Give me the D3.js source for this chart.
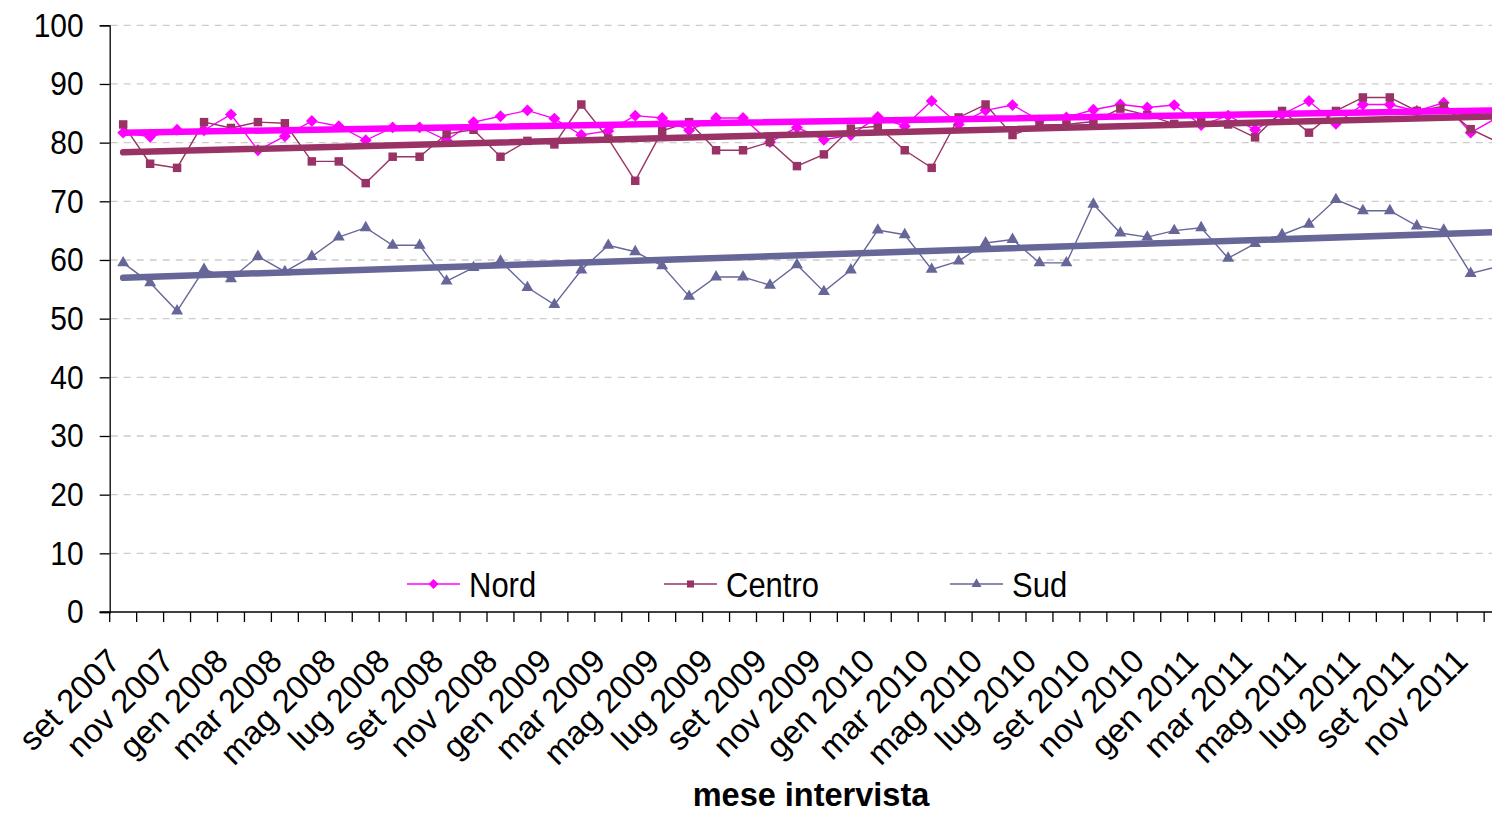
<!DOCTYPE html>
<html>
<head>
<meta charset="utf-8">
<script src="https://cdn.jsdelivr.net/npm/d3@7"></script>
<style>
  html, body { margin: 0; padding: 0; background: #ffffff; }
  svg { display: block; font-family: "Liberation Sans", Arial, sans-serif; }
</style>
</head>
<body>
<svg id="chart" width="1492" height="814"></svg>
<script>
// Months of the survey, September 2007 to December 2011
const monthNames = ["set", "ott", "nov", "dic", "gen", "feb", "mar", "apr", "mag", "giu", "lug", "ago"];
const months = [];
for (let k = 0; k < 52; k++) {
  const yr = 2007 + Math.floor((8 + k) / 12);
  months.push(monthNames[k % 12] + " " + yr);
}

// Percentages by area, one value per month
const nord = [81.7, 81.0, 82.2, 82.1, 84.8, 78.7, 81.1, 83.7, 82.8, 80.4,
              82.6, 82.6, 80.4, 83.5, 84.5, 85.5, 84.1, 81.3, 82.0, 84.6,
              84.2, 82.1, 84.2, 84.2, 80.1, 82.6, 80.5, 81.3, 84.4, 82.8,
              87.1, 83.1, 85.5, 86.4, 83.8, 84.3, 85.6, 86.5, 86.0, 86.4,
              83.0, 84.6, 82.2, 84.8, 87.1, 83.2, 86.5, 86.5, 85.4, 86.8,
              81.7, 84.3];
const centro = [83.1, 76.4, 75.7, 83.5, 82.5, 83.5, 83.3, 76.8, 76.8, 73.1,
                77.6, 77.6, 81.5, 82.2, 77.6, 80.3, 79.7, 86.5, 80.7, 73.5,
                82.0, 83.5, 78.7, 78.7, 80.1, 76.0, 78.0, 82.4, 82.8, 78.7,
                75.7, 84.3, 86.5, 81.3, 83.0, 83.1, 83.6, 85.8, 84.7, 83.2,
                83.5, 83.1, 80.9, 85.4, 81.7, 85.4, 87.7, 87.7, 85.4, 86.2,
                82.3, 80.1];
const sud = [59.5, 56.1, 51.3, 58.4, 56.8, 60.6, 58.0, 60.6, 63.9, 65.5,
             62.5, 62.5, 56.4, 58.7, 59.8, 55.3, 52.4, 58.3, 62.5, 61.4,
             59.0, 53.8, 57.1, 57.1, 55.7, 59.2, 54.6, 58.3, 65.1, 64.3,
             58.4, 59.8, 62.9, 63.5, 59.5, 59.5, 69.5, 64.6, 63.9, 65.0,
             65.5, 60.3, 62.8, 64.3, 66.1, 70.3, 68.4, 68.4, 65.8, 65.1,
             57.7, 58.9];

const yTicks = [0, 10, 20, 30, 40, 50, 60, 70, 80, 90, 100];
const seriesNames = ["Nord", "Centro", "Sud"];
const seriesColors = ["#ff00ff", "#993366", "#666699"];
const seriesShapes = [d3.symbolDiamond2 || d3.symbolDiamond, d3.symbolSquare, d3.symbolTriangle];
const seriesData = [nord, centro, sud];
const axisTitle = "mese intervista";

// Plot geometry
const plotLeft = 109.7, plotTop = 25.3, plotBottom = 612;
const bandW = 26.95;
const plotRight = plotLeft + months.length * bandW;
const textStretch = 1.12;   // upright text glyphs are drawn slightly taller than wide

const svg = d3.select("#chart");

const x = d3.scaleBand().domain(months).range([plotLeft, plotRight]).paddingInner(0).paddingOuter(0);
const cx = d => x(d) + x.bandwidth() / 2;
const y = d3.scaleLinear().domain([0, 100]).range([plotBottom, plotTop]);

// Horizontal dashed gridlines
svg.append("g")
  .selectAll("line")
  .data(yTicks.filter(t => t > 0))
  .join("line")
  .attr("x1", plotLeft + 1).attr("x2", 1492)
  .attr("y1", d => y(d)).attr("y2", d => y(d))
  .attr("stroke", "#cccccc")
  .attr("stroke-width", 1.3)
  .attr("stroke-dasharray", "7,6");

// Y axis
const yAxis = svg.append("g")
  .attr("transform", `translate(${plotLeft},0)`)
  .call(d3.axisLeft(y).tickValues(yTicks).tickSize(10).tickPadding(16).tickFormat(d3.format("d")));
yAxis.select(".domain").attr("stroke", "#000").attr("stroke-width", 1.3);
yAxis.selectAll(".tick line").attr("stroke", "#000").attr("stroke-width", 1.3);
yAxis.selectAll(".tick text")
  .attr("font-size", 30)
  .attr("fill", "#000")
  .attr("font-family", "'Liberation Sans', Arial, sans-serif")
  .attr("transform", `scale(1,${textStretch})`);

// X axis line and tick marks at category boundaries
const xAxis = svg.append("g");
xAxis.append("line")
  .attr("x1", plotLeft - 10).attr("x2", 1492)
  .attr("y1", plotBottom).attr("y2", plotBottom)
  .attr("stroke", "#000").attr("stroke-width", 1.3);
xAxis.selectAll("line.tick")
  .data(d3.range(months.length + 1))
  .join("line")
  .attr("class", "tick")
  .attr("x1", i => plotLeft + i * x.bandwidth())
  .attr("x2", i => plotLeft + i * x.bandwidth())
  .attr("y1", plotBottom).attr("y2", plotBottom + 10)
  .attr("stroke", "#000").attr("stroke-width", 1.3);

// Rotated month labels, every other month
xAxis.selectAll("text")
  .data(months.filter((d, i) => i % 2 === 0))
  .join("text")
  .attr("transform", d => `translate(${cx(d) - 1},${plotBottom + 51}) rotate(-45)`)
  .attr("text-anchor", "end")
  .attr("font-size", 33)
  .attr("fill", "#000")
  .text(d => d);

// Axis title
svg.append("text")
  .attr("x", 811).attr("y", 806)
  .attr("text-anchor", "middle")
  .attr("font-size", 32.5)
  .attr("font-weight", "bold")
  .attr("fill", "#000")
  .text(axisTitle);

// Series lines with markers
const line = d3.line().x((d, i) => cx(months[i])).y(d => y(d));
const markerSizes = [90, 72, 62];

seriesData.forEach((vals, s) => {
  const g = svg.append("g");
  g.append("path")
    .datum(vals)
    .attr("d", line)
    .attr("fill", "none")
    .attr("stroke", seriesColors[s])
    .attr("stroke-width", 1.4);
  g.selectAll("path.mk")
    .data(vals)
    .join("path")
    .attr("class", "mk")
    .attr("transform", (d, i) => `translate(${cx(months[i])},${y(d)})`)
    .attr("d", d3.symbol().type(seriesShapes[s]).size(markerSizes[s]))
    .attr("fill", seriesColors[s]);
});

// Linear trend lines (least squares over month index)
seriesData.forEach((vals, s) => {
  const n = vals.length;
  const idx = d3.range(n);
  const mx = d3.mean(idx), my = d3.mean(vals);
  const slope = d3.sum(idx, i => (i - mx) * (vals[i] - my)) / d3.sum(idx, i => (i - mx) * (i - mx));
  const icpt = my - slope * mx;
  svg.append("line")
    .attr("x1", cx(months[0])).attr("y1", y(icpt))
    .attr("x2", cx(months[n - 1])).attr("y2", y(icpt + slope * (n - 1)))
    .attr("stroke", seriesColors[s])
    .attr("stroke-width", 6.5)
    .attr("stroke-linecap", "round");
});

// Legend
const legendX = [407, 664, 950];
const legendY = 584;
const lg = svg.append("g");
seriesNames.forEach((name, s) => {
  const g = lg.append("g").attr("transform", `translate(${legendX[s]},${legendY})`);
  g.append("line").attr("x1", 0).attr("x2", 53).attr("y1", 0).attr("y2", 0)
    .attr("stroke", seriesColors[s]).attr("stroke-width", 1.4);
  g.append("path")
    .attr("transform", "translate(26.5,0)")
    .attr("d", d3.symbol().type(seriesShapes[s]).size(markerSizes[s] * 0.7))
    .attr("fill", seriesColors[s]);
  g.append("text")
    .attr("transform", `translate(62,0) scale(1,${textStretch})`)
    .attr("dy", "0.36em")
    .attr("font-size", 31)
    .attr("fill", "#000")
    .text(name);
});
</script>
</body>
</html>
